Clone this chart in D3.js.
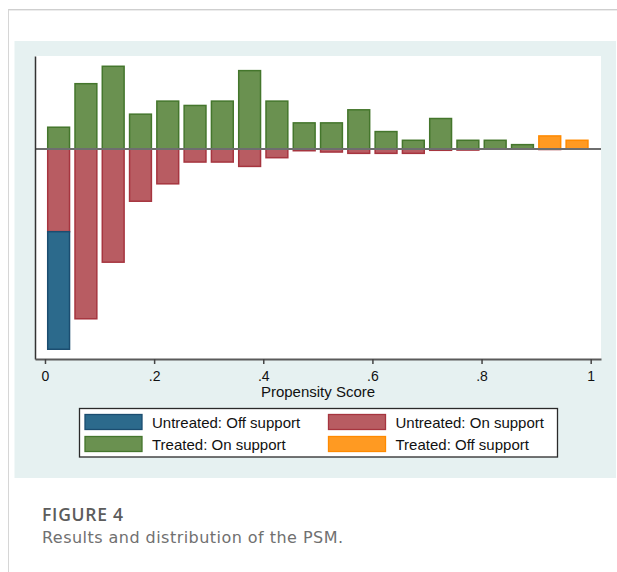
<!DOCTYPE html>
<html>
<head>
<meta charset="utf-8">
<script src="https://cdn.jsdelivr.net/npm/d3@7"></script>
<style>
  html, body { margin: 0; padding: 0; background: #ffffff; }
  svg { display: block; }
</style>
</head>
<body>
<svg id="fig" width="617" height="572"></svg>
<script>
// Propensity score bins (left edge of each 0.05-wide bin)
const binStart = [0, 0.05, 0.10, 0.15, 0.20, 0.25, 0.30, 0.35, 0.40, 0.45,
                  0.50, 0.55, 0.60, 0.65, 0.70, 0.75, 0.80, 0.85, 0.90, 0.95];
const binWidth = 0.05;

// Treated group, drawn above zero
const treatedOn  = [5, 15, 19, 8, 11, 10, 11, 18, 11, 6, 6, 9, 4, 2, 7, 2, 2, 1, 0, 0];
const treatedOff = [0, 0, 0, 0, 0, 0, 0, 0, 0, 0, 0, 0, 0, 0, 0, 0, 0, 0, 3, 2];

// Untreated group, drawn below zero
const untreatedOn  = [19, 39, 26, 12, 8, 3, 3, 4, 2, 0.4, 0.7, 1, 1, 1, 0.3, 0.25, 0, 0, 0.12, 0];
const untreatedOff = [27, 0, 0, 0, 0, 0, 0, 0, 0, 0, 0, 0, 0, 0, 0, 0, 0, 0, 0, 0];

const xTicks = [0, 0.2, 0.4, 0.6, 0.8, 1];
const xTickLabels = ["0", ".2", ".4", ".6", ".8", "1"];
const xTitle = "Propensity Score";

const legendNames = ["Untreated: Off support", "Untreated: On support",
                     "Treated: On support", "Treated: Off support"];

const styles = {
  untreatedOff: { fill: "#2c6a8c", stroke: "#1b4d70" },
  untreatedOn:  { fill: "#b85c62", stroke: "#a6353f" },
  treatedOn:    { fill: "#6a9150", stroke: "#44762c" },
  treatedOff:   { fill: "#ff9a22", stroke: "#ff8a00" }
};
const legendStyles = [styles.untreatedOff, styles.untreatedOn, styles.treatedOn, styles.treatedOff];

const svg = d3.select("#fig");
const font = "'Liberation Sans', Arial, sans-serif";

// Page frame
svg.append("line").attr("x1", 8).attr("x2", 617).attr("y1", 9.5).attr("y2", 9.5)
  .attr("stroke", "#cfcfcf").attr("stroke-width", 1);
svg.append("line").attr("x1", 8).attr("x2", 617).attr("y1", 10.5).attr("y2", 10.5)
  .attr("stroke", "#ececec").attr("stroke-width", 1);
svg.append("line").attr("x1", 8.5).attr("x2", 8.5).attr("y1", 9.5).attr("y2", 572)
  .attr("stroke", "#d6d6d6").attr("stroke-width", 1);

// Graph region
svg.append("rect").attr("x", 14.5).attr("y", 41).attr("width", 601.5).attr("height", 437)
  .attr("fill", "#e6f1f1");

// Plot region
const plot = { left: 35, right: 601, top: 56, bottom: 359 };
svg.append("rect").attr("x", plot.left).attr("y", plot.top)
  .attr("width", plot.right - plot.left).attr("height", plot.bottom - plot.top)
  .attr("fill", "#ffffff");

const x = d3.scaleLinear().domain([-0.0183, 1.0189]).range([plot.left, plot.right]);
const y = d3.scaleLinear().domain([-48.24, 21.36]).range([plot.bottom, plot.top]);

// Build stacked segments: treated stacks upward, untreated downward
const segments = [];
binStart.forEach((b, i) => {
  let up = 0;
  [[treatedOn[i], styles.treatedOn], [treatedOff[i], styles.treatedOff]].forEach(([v, s]) => {
    if (v > 0) { segments.push({ b, y0: up, y1: up + v, s }); up += v; }
  });
  let down = 0;
  [[untreatedOn[i], styles.untreatedOn], [untreatedOff[i], styles.untreatedOff]].forEach(([v, s]) => {
    if (v > 0) { segments.push({ b, y0: down - v, y1: down, s }); down -= v; }
  });
});

const gap = binWidth * 0.1;
svg.append("g").selectAll("rect").data(segments).join("rect")
  .attr("x", d => x(d.b + gap))
  .attr("width", d => x(d.b + binWidth - gap) - x(d.b + gap))
  .attr("y", d => y(d.y1))
  .attr("height", d => y(d.y0) - y(d.y1))
  .attr("fill", d => d.s.fill)
  .attr("stroke", d => d.s.stroke)
  .attr("stroke-width", 1.5);

// Zero reference line
svg.append("line")
  .attr("x1", plot.left).attr("x2", plot.right)
  .attr("y1", y(0)).attr("y2", y(0))
  .attr("stroke", "#6e6e6e").attr("stroke-width", 2);

// Y axis (line only)
const yAxis = svg.append("g").attr("transform", `translate(${plot.left},0)`)
  .call(d3.axisLeft(y).tickValues([]).tickSizeOuter(0));
yAxis.select(".domain").attr("stroke", "#333").attr("stroke-width", 1.5);

// X axis
const xAxis = svg.append("g").attr("transform", `translate(0,${plot.bottom})`)
  .call(d3.axisBottom(x).tickValues(xTicks)
    .tickFormat((d, i) => xTickLabels[i]).tickSizeOuter(0).tickSizeInner(5).tickPadding(7));
xAxis.select(".domain").attr("stroke", "#5a5a5a").attr("stroke-width", 2);
xAxis.selectAll(".tick line").attr("stroke", "#444").attr("stroke-width", 1.5);
xAxis.selectAll(".tick text").attr("font-family", font).attr("font-size", 14).attr("fill", "#111");

svg.append("text")
  .attr("x", (plot.left + plot.right) / 2).attr("y", 397)
  .attr("text-anchor", "middle")
  .attr("font-family", font).attr("font-size", 15).attr("fill", "#111")
  .text(xTitle);

// Legend
const legend = svg.append("g");
legend.append("rect").attr("x", 79.5).attr("y", 408.5).attr("width", 478).attr("height", 48.5)
  .attr("fill", "#ffffff").attr("stroke", "#2a2a2a").attr("stroke-width", 1.3);
const colX = [85, 328.5];
const rowY = [414.5, 436.5];
legendNames.forEach((name, i) => {
  const cx = colX[i % 2], ry = rowY[Math.floor(i / 2)];
  legend.append("rect").attr("x", cx).attr("y", ry).attr("width", 57).attr("height", 15)
    .attr("fill", legendStyles[i].fill).attr("stroke", legendStyles[i].stroke).attr("stroke-width", 1.3);
  legend.append("text").attr("x", cx + 67).attr("y", ry + 13)
    .attr("font-family", font).attr("font-size", 15).attr("fill", "#111")
    .text(name);
});

// Caption
svg.append("text").attr("x", 42).attr("y", 521)
  .attr("font-family", "'Open Sans', 'Noto Sans', sans-serif").attr("font-size", 17.5)
  .attr("font-weight", 600).attr("fill", "#5c5c5c")
  .attr("textLength", 81).attr("lengthAdjust", "spacing")
  .text("FIGURE 4");
svg.append("text").attr("x", 42).attr("y", 543)
  .attr("font-family", "'DejaVu Sans', sans-serif").attr("font-size", 16)
  .attr("fill", "#707070")
  .attr("textLength", 301).attr("lengthAdjust", "spacing")
  .text("Results and distribution of the PSM.");
</script>
</body>
</html>
